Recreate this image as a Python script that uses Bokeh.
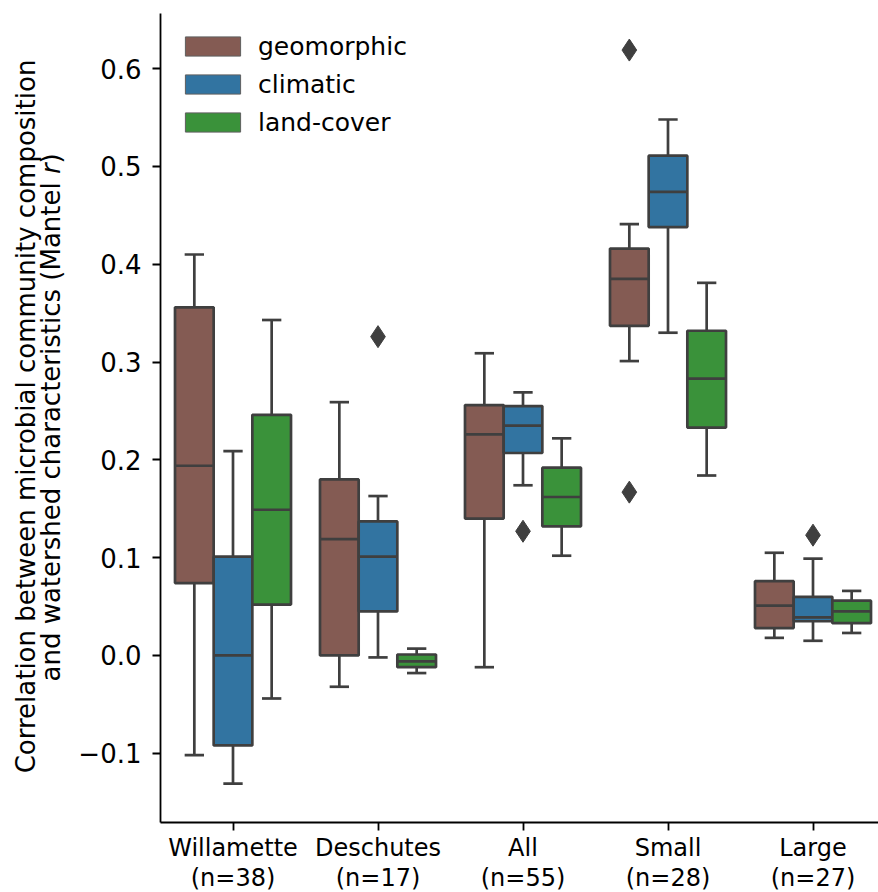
import math

from bokeh.core.properties import value
from bokeh.embed import file_html
from bokeh.layouts import row
from bokeh.models import (ColumnDataSource, CustomJSTickFormatter, FixedTicker,
                          Legend, LegendItem, Range1d)
from bokeh.plotting import figure
from bokeh.resources import INLINE

# ---- data -------------------------------------------------------------
categories = ["Willamette", "Deschutes", "All", "Small", "Large"]
n_sites = [38, 17, 55, 28, 27]
tick_labels = [f"{c}\n(n={n})" for c, n in zip(categories, n_sites)]

series = ["geomorphic", "climatic", "land-cover"]

# box statistics (Mantel r): lower whisker, Q1, median, Q3, upper whisker
geo_whislo = [-0.102, -0.032, -0.012, 0.301, 0.018]
geo_q1 = [0.074, 0.000, 0.140, 0.337, 0.028]
geo_med = [0.194, 0.119, 0.226, 0.385, 0.051]
geo_q3 = [0.356, 0.180, 0.256, 0.416, 0.076]
geo_whishi = [0.410, 0.259, 0.309, 0.441, 0.105]

clim_whislo = [-0.131, -0.002, 0.174, 0.330, 0.015]
clim_q1 = [-0.092, 0.045, 0.207, 0.438, 0.035]
clim_med = [0.000, 0.101, 0.235, 0.474, 0.039]
clim_q3 = [0.101, 0.137, 0.255, 0.511, 0.060]
clim_whishi = [0.209, 0.163, 0.269, 0.548, 0.099]

land_whislo = [-0.044, -0.018, 0.102, 0.184, 0.023]
land_q1 = [0.052, -0.012, 0.132, 0.233, 0.033]
land_med = [0.149, -0.006, 0.162, 0.283, 0.045]
land_q3 = [0.246, 0.001, 0.192, 0.332, 0.056]
land_whishi = [0.343, 0.007, 0.222, 0.381, 0.066]

# points beyond the whiskers
outlier_group = ["Deschutes", "All", "Small", "Small", "Large"]
outlier_series = ["climatic", "climatic", "geomorphic", "geomorphic", "climatic"]
outlier_value = [0.326, 0.127, 0.619, 0.167, 0.123]

y_ticks = [-0.1, 0.0, 0.1, 0.2, 0.3, 0.4, 0.5, 0.6]

y_title_1 = "Correlation between microbial community composition"
y_title_2 = ["and watershed characteristics (Mantel", "r", ")"]

# ---- styling ----------------------------------------------------------
colors = {"geomorphic": "#845b53", "climatic": "#3274a1", "land-cover": "#3a923a"}
edge = "#3f3f3f"
font = "DejaVu Sans"
lw = 2.7

stats = {
    "geomorphic": (geo_whislo, geo_q1, geo_med, geo_q3, geo_whishi),
    "climatic": (clim_whislo, clim_q1, clim_med, clim_q3, clim_whishi),
    "land-cover": (land_whislo, land_q1, land_med, land_q3, land_whishi),
}

# geometry in pixels
W, H = 878, 892
TITLE_W = 70          # strip holding the rotated y-axis title
LEFT, TOP = 160, 13   # frame origin on the page
FRAME_W, FRAME_H = W - LEFT, 809
PX_PER_CAT = 145.0
PX_PER_UNIT = 978.0
x_start = -0.5
x_end = x_start + FRAME_W / PX_PER_CAT
y_end = 0.6564
y_start = y_end - FRAME_H / PX_PER_UNIT

p = figure(frame_width=FRAME_W, frame_height=FRAME_H,
           min_border_left=LEFT - TITLE_W, min_border_right=0, min_border_top=TOP,
           min_border_bottom=H - TOP - FRAME_H,
           x_range=Range1d(x_start, x_end), y_range=Range1d(y_start, y_end),
           output_backend="svg", toolbar_location=None)
p.outline_line_color = None
p.xgrid.visible = False
p.ygrid.visible = False
p.background_fill_color = "white"
p.border_fill_color = "white"

group_w = 0.8
box_w = group_w / len(series)

for i, s in enumerate(series):
    lo, q1, med, q3, hi = stats[s]
    xs = [k + (i - 1) * box_w for k in range(len(categories))]
    src = ColumnDataSource(dict(
        x=xs,
        left=[x - box_w / 2 for x in xs],
        right=[x + box_w / 2 for x in xs],
        cap_l=[x - box_w / 4 for x in xs],
        cap_r=[x + box_w / 4 for x in xs],
        lo=lo, q1=q1, med=med, q3=q3, hi=hi,
    ))
    # whiskers and caps
    p.segment(x0="x", y0="q3", x1="x", y1="hi", source=src, line_color=edge, line_width=lw)
    p.segment(x0="x", y0="lo", x1="x", y1="q1", source=src, line_color=edge, line_width=lw)
    p.segment(x0="cap_l", y0="hi", x1="cap_r", y1="hi", source=src, line_color=edge, line_width=lw)
    p.segment(x0="cap_l", y0="lo", x1="cap_r", y1="lo", source=src, line_color=edge, line_width=lw)
    # box and median
    p.quad(left="left", right="right", bottom="q1", top="q3", source=src,
           fill_color=colors[s], line_color=edge, line_width=lw)
    p.segment(x0="left", y0="med", x1="right", y1="med", source=src,
              line_color=edge, line_width=lw)

# outliers
ox = [categories.index(g) + (series.index(s) - 1) * box_w
      for g, s in zip(outlier_group, outlier_series)]
p.scatter(x=ox, y=outlier_value, marker="diamond", size=22,
          fill_color=edge, line_color=edge)

# legend swatches (proxy glyphs with no visible extent)
nan = float("nan")
items = []
for s in series:
    r = p.quad(left=[nan], right=[nan], bottom=[nan], top=[nan], fill_color=colors[s],
               line_color="#5f5f5f", line_width=1)
    items.append(LegendItem(label=s, renderers=[r]))
legend = Legend(items=items, location="top_left", border_line_color=None,
                background_fill_alpha=0, margin=18, padding=0,
                glyph_width=69, glyph_height=24, label_standoff=11,
                spacing=8, label_text_font=font, label_text_font_size="25px",
                label_text_color="black", label_height=30)
p.add_layout(legend)

# axes
p.xaxis.ticker = FixedTicker(ticks=list(range(len(categories))))
p.xaxis.formatter = CustomJSTickFormatter(args=dict(labels=tick_labels),
                                          code="return labels[Math.round(tick)];")
p.yaxis.ticker = FixedTicker(ticks=y_ticks)
p.yaxis.formatter = CustomJSTickFormatter(
    code="return (tick < -1e-9 ? '\\u2212' : '') + Math.abs(tick).toFixed(1);")
for ax in (p.xaxis, p.yaxis):
    ax.axis_line_color = "black"
    ax.axis_line_width = 1.8
    ax.major_tick_line_color = "black"
    ax.major_tick_line_width = 1.8
    ax.major_tick_out = 8
    ax.major_tick_in = 0
    ax.minor_tick_line_color = None
    ax.major_label_text_color = "black"
    ax.major_label_text_font = font
p.xaxis.major_label_text_font_size = "24px"
p.xaxis.major_label_standoff = 3
p.xaxis.major_label_text_line_height = 1.1
p.yaxis.major_label_text_font_size = "26px"
p.yaxis.major_label_standoff = 11

# ---- rotated y-axis title in its own strip ----
# the strip's frame lines up with the main frame, so its y range is chosen
# to make one data unit equal one pixel, measured upward from the page bottom
t = figure(width=TITLE_W, height=H, x_range=Range1d(0, TITLE_W),
           y_range=Range1d(H - TOP - FRAME_H, H - TOP),
           x_axis_location=None, y_axis_location=None, min_border=0,
           output_backend="svg", toolbar_location=None)
t.outline_line_color = None
t.xgrid.visible = False
t.ygrid.visible = False
t.border_fill_color = "white"
t.background_fill_color = "white"

title_size = 26
center = H - (TOP + FRAME_H / 2)
tstyle = dict(angle=math.pi / 2, text_baseline="alphabetic", text_font=value(font),
              text_font_size=f"{title_size}px", text_color="black")

# em widths of the two lines (DejaVu Sans advance widths)
w_line1 = 27.517
w_head = 19.522  # "and watershed characteristics (Mantel "
w_r = 0.411
w_close = 0.39

base1, base2 = 25, 50
t.text(x=[base1], y=[center], text=[y_title_1], text_align="center", **tstyle)

total = (w_head + w_r + w_close) * title_size
r_pos = center - total / 2 + w_head * title_size
space_px = 0.318 * title_size
t.text(x=[base2], y=[r_pos - space_px], text=[y_title_2[0]], text_align="right", **tstyle)
t.text(x=[base2], y=[r_pos], text=[y_title_2[1]], text_align="left",
       text_font_style="italic", **tstyle)
t.text(x=[base2], y=[r_pos + w_r * title_size], text=[y_title_2[2]], text_align="left",
       **tstyle)

layout = row(t, p, spacing=0)
open("out.html", "w").write(file_html(layout, INLINE))
